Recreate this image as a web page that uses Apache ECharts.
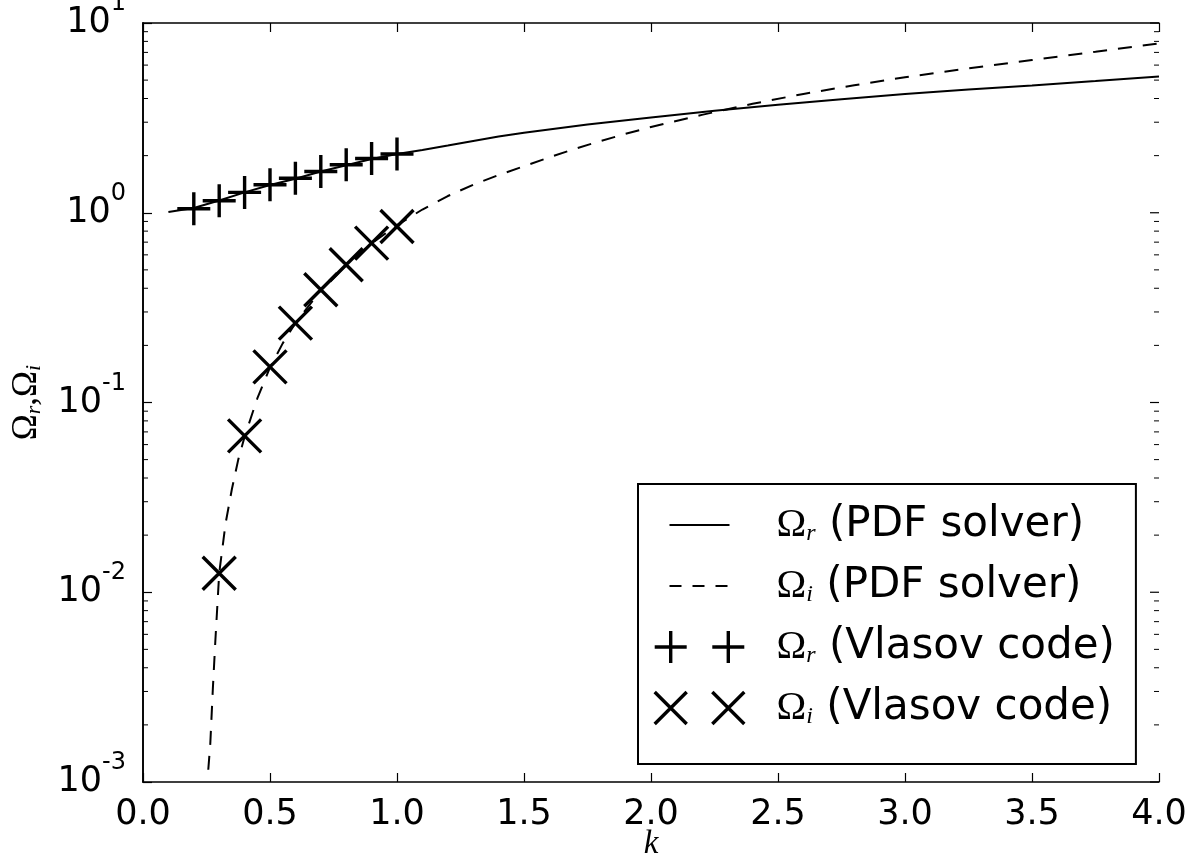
<!DOCTYPE html>
<html><head><meta charset="utf-8">
<script src="https://cdn.jsdelivr.net/npm/echarts@6/dist/echarts.min.js"></script>
<style>html,body{margin:0;padding:0;background:#fff}#c{width:1198px;height:859px}</style>
</head><body><div id="c"></div>
<script>
// ---- data ----
const kSolid = [0.1,0.2,0.3,0.4,0.5,0.6,0.7,0.8,0.9,1.0,1.1,1.2,1.3,1.4,1.5,1.75,2.0,2.25,2.5,2.75,3.0,3.25,3.5,3.75,4.0];
const omegaRSolver = [1.01,1.06,1.16,1.28,1.40,1.51,1.65,1.78,1.92,2.04,2.14,2.26,2.39,2.52,2.64,2.92,3.18,3.45,3.71,3.97,4.22,4.46,4.69,4.95,5.23];
const kDashed = [0.257,0.265,0.275,0.285,0.3,0.325,0.35,0.375,0.4,0.45,0.5,0.55,0.6,0.7,0.8,0.9,1.0,1.1,1.2,1.3,1.4,1.5,1.6,1.7,1.8,1.9,2.0,2.2,2.4,2.6,2.8,3.0,3.25,3.5,3.75,4.0];
const omegaISolver = [0.00116,0.0016,0.0031,0.0056,0.0126,0.023,0.035,0.05,0.066,0.105,0.153,0.205,0.262,0.39,0.53,0.69,0.86,1.04,1.225,1.405,1.58,1.76,1.96,2.17,2.385,2.605,2.83,3.28,3.75,4.23,4.70,5.18,5.76,6.38,7.05,7.8];
const kVlasovR = [0.2,0.3,0.4,0.5,0.6,0.7,0.8,0.9,1.0];
const omegaRVlasov = [1.05,1.157,1.28,1.405,1.52,1.65,1.79,1.93,2.04];
const kVlasovI = [0.3,0.4,0.5,0.6,0.7,0.8,0.9,1.0];
const omegaIVlasov = [0.0126,0.0667,0.154,0.262,0.393,0.532,0.692,0.847];
const xTickLabels = ['0.0','0.5','1.0','1.5','2.0','2.5','3.0','3.5','4.0'];
const yTickExponents = ['1','0','-1','-2','-3'];
const yMajorTicks = [0.001,0.01,0.1,1,10];
const minorMultipliers = [2,3,4,5,6,7,8,9];
const minorDecades = [0.001,0.01,0.1,1];
const seriesNames = ['Ωr (PDF solver)','Ωi (PDF solver)','Ωr (Vlasov code)','Ωi (Vlasov code)'];

const xMin = 0, xMax = 4, yMin = 0.001, yMax = 10;
const zip = (a, b) => a.map((v, i) => [v, b[i]]);
const frameTicks = [];
minorDecades.forEach(d => minorMultipliers.forEach(m => frameTicks.push([xMin, +(d * m).toPrecision(3), 5])));
yMajorTicks.forEach(v => frameTicks.push([xMin, v, 9]));

const chart = echarts.init(document.getElementById('c'), null, {renderer: 'canvas'});
const sansFont = 'DejaVu Sans';
const serifFont = 'Liberation Serif';
const plusPath = 'path://M0,-1L0,1M-1,0L1,0';
const crossPath = 'path://M-1,-1L1,1M-1,1L1,-1';
const plus2Path = 'path://M0,-1L0,1M-1,0L1,0M3.6,-1L3.6,1M2.6,0L4.6,0';
const cross2Path = 'path://M-1,-1L1,1M-1,1L1,-1M2.6,-1L4.6,1M2.6,1L4.6,-1';
// legend line samples (90 x 32 icon box, 60 px sample centred)
const solidSamplePath = 'path://M-15,-16M75,16M0,-1L60,-1L60,1L0,1Z';
const dashSamplePath = 'path://M-15,-16M75,16M0,-1L12,-1L12,1L0,1ZM23,-1L35,-1L35,1L23,1ZM46,-1L58,-1L58,1L46,1Z';
const markerStyle = {color: 'rgba(0,0,0,0)', borderColor: '#000', borderWidth: 3.4, opacity: 1};
const sampleStyle = {color: '#000', borderWidth: 0, opacity: 1};

const legendText = {
  'Ωr (PDF solver)': '{o|Ω}{sub|r}{t| (PDF solver)}',
  'Ωi (PDF solver)': '{o|Ω}{sub|i}{t| (PDF solver)}',
  'Ωr (Vlasov code)': '{o|Ω}{sub|r}{t| (Vlasov code)}',
  'Ωi (Vlasov code)': '{o|Ω}{sub|i}{t| (Vlasov code)}'
};

const axisLineStyle = {show: true, lineStyle: {color: '#000', width: 1.6}};
const majorTick = {show: true, inside: true, length: 9, lineStyle: {color: '#000', width: 1.2}};

const option = {
  backgroundColor: '#fff',
  animation: false,
  grid: {left: 143, top: 23, right: 39, bottom: 77, containLabel: false, outerBoundsMode: 'none'},
  xAxis: [{
    type: 'value', min: xMin, max: xMax, interval: 0.5,
    axisLine: axisLineStyle, axisTick: majorTick, splitLine: {show: false},
    axisLabel: {margin: 15, color: '#000', fontFamily: sansFont, fontSize: 35,
      formatter: v => xTickLabels[Math.round(v / 0.5)]},
    name: 'k', nameLocation: 'middle', nameGap: 46, nameMoveOverlap: false,
    nameTextStyle: {fontFamily: serifFont, fontStyle: 'italic', fontSize: 33, color: '#000'}
  }, {
    type: 'value', min: xMin, max: xMax, interval: 0.5, position: 'top',
    axisLine: axisLineStyle, axisTick: majorTick, axisLabel: {show: false}, splitLine: {show: false}
  }],
  yAxis: [{
    type: 'log', logBase: 10, min: yMin, max: yMax,
    axisLine: axisLineStyle, axisTick: majorTick, splitLine: {show: false}, minorTick: {show: false},
    axisLabel: {
      margin: 17, color: '#000',
      formatter: v => {
        const e = Math.round(Math.log10(v));
        const lab = yTickExponents.find(s => +s === e);
        return '{b|10}{s|' + lab + '}';
      },
      rich: {
        b: {fontFamily: sansFont, fontSize: 35, lineHeight: 62, color: '#000'},
        s: {fontFamily: sansFont, fontSize: 24, lineHeight: 24, padding: [0, 0, 38, 0], color: '#000'}
      }
    },
    name: '{o|Ω}{sub|r}{o|,Ω}{sub|i}', nameLocation: 'middle', nameRotate: 90, nameGap: 96, nameMoveOverlap: false,
    nameTextStyle: {
      rich: {
        o: {fontFamily: serifFont, fontSize: 35, color: '#000', lineHeight: 40},
        sub: {fontFamily: serifFont, fontStyle: 'italic', fontSize: 22, color: '#000', lineHeight: 22, padding: [14, 0, 0, 0]}
      }
    }
  }, {
    type: 'log', logBase: 10, min: yMin, max: yMax, position: 'right',
    axisLine: axisLineStyle, axisTick: {show: false}, minorTick: {show: false},
    axisLabel: {show: false}, splitLine: {show: false}
  }],
  legend: {
    orient: 'vertical', left: 638, top: 484,
    padding: [20, 21, 35, 15],
    itemWidth: 90, itemHeight: 32, itemGap: 19,
    backgroundColor: '#fff', borderColor: '#000', borderWidth: 2, borderRadius: 0,
    selectedMode: false,
    data: [
      {name: seriesNames[0], icon: solidSamplePath, itemStyle: sampleStyle},
      {name: seriesNames[1], icon: dashSamplePath, itemStyle: sampleStyle},
      {name: seriesNames[2], icon: plus2Path, itemStyle: markerStyle},
      {name: seriesNames[3], icon: cross2Path, itemStyle: markerStyle}
    ],
    formatter: name => legendText[name],
    textStyle: {
      color: '#000',
      rich: {
        o: {fontFamily: serifFont, fontSize: 40, color: '#000', lineHeight: 44, padding: [0, 0, 0, 27]},
        sub: {fontFamily: serifFont, fontStyle: 'italic', fontSize: 24, color: '#000', lineHeight: 24, padding: [18, 0, 0, 0]},
        t: {fontFamily: sansFont, fontSize: 42, color: '#000', lineHeight: 44}
      }
    }
  },
  series: [
    {
      name: seriesNames[0], type: 'line', data: zip(kSolid, omegaRSolver),
      symbol: 'none', showSymbol: false, z: 3,
      lineStyle: {color: '#000', width: 2, type: 'solid'}, itemStyle: {color: '#000'}
    },
    {
      name: seriesNames[1], type: 'line', data: zip(kDashed, omegaISolver),
      symbol: 'none', showSymbol: false, z: 3,
      lineStyle: {color: '#000', width: 2, type: [14, 11]}, itemStyle: {color: '#000'}
    },
    {
      name: seriesNames[2], type: 'scatter', data: zip(kVlasovR, omegaRVlasov),
      symbol: plusPath, symbolSize: 33, z: 4, itemStyle: markerStyle
    },
    {
      name: seriesNames[3], type: 'scatter', data: zip(kVlasovI, omegaIVlasov),
      symbol: crossPath, symbolSize: 33, z: 4, itemStyle: markerStyle
    },
    {
      name: 'frame ticks', type: 'custom', silent: true, clip: false, z: 6,
      data: frameTicks,
      renderItem: (params, api) => {
        const v = api.value(1);
        const len = api.value(2);
        const pl = api.coord([xMin, v]);
        const pr = api.coord([xMax, v]);
        const st = {stroke: '#000', lineWidth: len > 6 ? 1.2 : 1};
        const children = [
          {type: 'line', shape: {x1: pr[0], y1: pr[1], x2: pr[0] - len, y2: pr[1]}, style: st}
        ];
        if (len < 6) children.push({type: 'line', shape: {x1: pl[0], y1: pl[1], x2: pl[0] + len, y2: pl[1]}, style: st});
        return {type: 'group', children};
      }
    }
  ]
};
chart.setOption(option);
</script>
</body></html>
